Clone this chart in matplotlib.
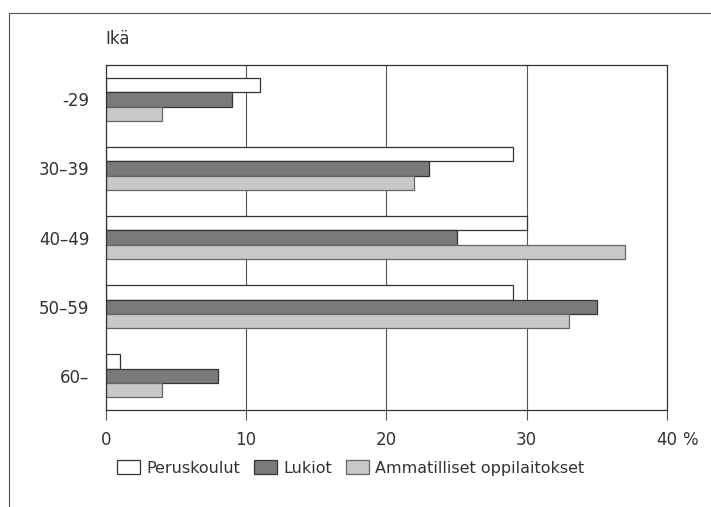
import matplotlib.pyplot as plt
import matplotlib.patches as mpatches
from matplotlib.lines import Line2D
import numpy as np

plt.rcParams['font.family'] = ['Liberation Sans Narrow', 'DejaVu Sans Condensed', 'DejaVu Sans']

groups = ["-29", "30\u201339", "40\u201349", "50\u201359", "60\u2013"]
series = ["Peruskoulut", "Lukiot", "Ammatilliset oppilaitokset"]
peruskoulut = [11, 29, 30, 29, 1]
lukiot = [9, 23, 25, 35, 8]
ammatilliset = [4, 22, 37, 33, 4]
xticks = [0, 10, 20, 30, 40]

fig = plt.figure(figsize=(7.11, 5.07), dpi=100)
ax = fig.add_axes([0.149, 0.191, 0.789, 0.681])

y = np.arange(len(groups))
h = 0.205
styles = [
    dict(facecolor='white', edgecolor='#333333'),
    dict(facecolor='#7a7a7a', edgecolor='#333333'),
    dict(facecolor='#c8c8c8', edgecolor='#666666'),
]
for k, vals in enumerate([peruskoulut, lukiot, ammatilliset]):
    ax.barh(y + (k - 1) * h, vals, height=h, linewidth=0.9, zorder=2,
            label=series[k], **styles[k])

for gx in xticks[1:-1]:
    ax.axvline(gx, color='#555555', linewidth=0.8, zorder=1)

ax.set_xlim(0, 40)
ax.set_ylim(4.5, -0.5)
ax.set_yticks(y)
ax.set_yticklabels(groups, fontsize=12, color='#333333')
ax.set_xticks(xticks)
ax.set_xticklabels([str(t) for t in xticks], fontsize=12, color='#333333')
ax.tick_params(axis='y', length=0, pad=12)
ax.tick_params(axis='x', length=7, width=0.8, color='#555555', pad=8)
for s in ax.spines.values():
    s.set_color('#333333')
    s.set_linewidth(0.9)

ax.annotate("%", xy=(40, 0), xycoords=ax.get_xaxis_transform(),
            xytext=(11, -15), textcoords='offset points', fontsize=12,
            color='#333333', ha='left', va='top')
fig.text(0.148, 0.905, "Ik\u00e4", fontsize=12, color='#333333', ha='left', va='bottom')

# page frame lines
fig.add_artist(Line2D([0.013, 1.0], [0.974, 0.974], color='#555555', linewidth=0.8))
fig.add_artist(Line2D([0.013, 0.013], [0.0, 0.974], color='#555555', linewidth=0.8))

handles = [mpatches.Patch(linewidth=0.9, label=series[k], **styles[k]) for k in range(3)]
fig.legend(handles=handles, loc='center left', bbox_to_anchor=(0.145, 0.077),
           ncol=3, frameon=False, fontsize=11.5, handlelength=1.4, handleheight=0.9,
           handletextpad=0.4, columnspacing=0.9, labelcolor='#333333')

fig.savefig("out.png", dpi=100)
